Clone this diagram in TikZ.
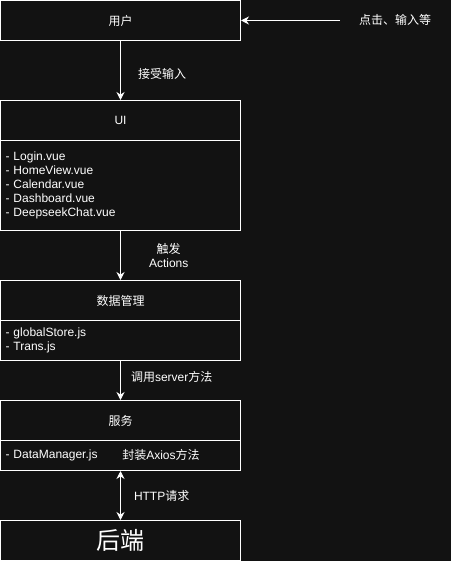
\documentclass[tikz,border=0pt]{standalone}
\usepackage{fontspec}
\setmainfont{Liberation Sans}
\newfontfamily\cjk{Noto Sans CJK SC}
\usetikzlibrary{arrows.meta}
\definecolor{bg}{HTML}{121212}
\definecolor{fg}{HTML}{FFFFFF}

\begin{document}
\begin{tikzpicture}[x=1pt,y=-1pt,
  box/.style={draw=white,line width=1pt,minimum width=240pt,minimum height=40pt,inner sep=0pt,text=fg},
  listbox/.style={draw=white,line width=1pt,minimum width=240pt,inner xsep=5pt,inner ysep=0pt,text width=230pt,align=left,text=fg},
  lbl/.style={text=fg,align=center,inner sep=0pt},
  arr/.style={draw=white,line width=1pt,-{Stealth[length=8pt,width=8pt]}},
  font=\fontsize{12}{14}\selectfont]
\fill[bg] (0,0) rectangle (451,561);
\useasboundingbox (0,0) rectangle (451,561);
\node[box] (user) at (120.5,20.5) {\cjk 用户};
\node[box] (ui) at (120.5,120.5) {UI};
\node[listbox,minimum height=90pt] (uilist) at (120.5,185.5) {- Login.vue\\- HomeView.vue\\- Calendar.vue\\- Dashboard.vue\\- DeepseekChat.vue};
\node[box] (data) at (120.5,300.5) {\cjk 数据管理};
\node[listbox,minimum height=40pt] (datalist) at (120.5,340.5) {- globalStore.js\\- Trans.js};
\node[box] (svc) at (120.5,420.5) {\cjk 服务};
\node[listbox,minimum height=30pt] (svclist) at (120.5,455.5) {- DataManager.js};
\node[lbl] (axios) at (161,455) {{\cjk 封装}Axios{\cjk 方法}};
\node[box,font=\fontsize{24}{28}\selectfont] (backend) at (120.5,540.5) {\cjk 后端};
\coordinate (click) at (340,20.5);
\node[lbl] (clicklbl) at (395,20) {\cjk 点击、输入等};
\draw[arr] (click) -- (user.east);
\draw[arr] (user.south) -- (ui.north) node[lbl,pos=0.55,right=17pt] {\cjk 接受输入};
\draw[arr] (uilist.south) -- (data.north) node[lbl,pos=0.5,right=28pt] {{\cjk 触发}\\Actions};
\draw[arr] (datalist.south) -- (svc.north) node[lbl,pos=0.4,right=10pt] {{\cjk 调用}server{\cjk 方法}};
\draw[arr,{Stealth[length=8pt,width=8pt]}-{Stealth[length=8pt,width=8pt]}] (svclist.south) -- (backend.north) node[lbl,pos=0.5,right=13pt] {HTTP{\cjk 请求}};
\end{tikzpicture}
\end{document}
